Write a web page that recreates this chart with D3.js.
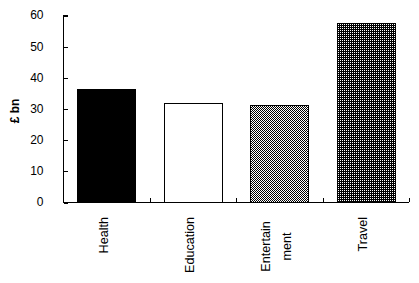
<!DOCTYPE html>
<html><head>
<meta charset="utf-8">
<title>Spending</title>
<script src="https://cdnjs.cloudflare.com/ajax/libs/d3/7.8.5/d3.min.js"></script>
<style>
body { margin: 0; background: #fff; }
svg text { font-family: 'Liberation Sans', Arial, sans-serif; font-size: 12px; fill: #000; }
svg text.cat { font-size: 12.6px; }
</style>
</head>
<body>
<div id="chart"></div>
<script>
var categories = ["Health", "Education", "Entertainment", "Travel"];
var catLines = [["Health"], ["Education"], ["Entertain", "ment"], ["Travel"]];
var values = [36.3, 31.7, 31.2, 57.4];
var fills = ["#000", "#fff", "url(#checker)", "url(#dots)"];
var yTicks = [0, 10, 20, 30, 40, 50, 60];

var w = 419, h = 283;
var svg = d3.select("#chart").append("svg")
    .attr("width", w).attr("height", h)
    .attr("shape-rendering", "crispEdges");

var defs = svg.append("defs");
var p1 = defs.append("pattern").attr("id", "checker")
    .attr("width", 2).attr("height", 2).attr("patternUnits", "userSpaceOnUse");
p1.append("rect").attr("width", 2).attr("height", 2).attr("fill", "#fff");
p1.append("rect").attr("width", 1).attr("height", 1).attr("fill", "#000");
p1.append("rect").attr("x", 1).attr("y", 1).attr("width", 1).attr("height", 1).attr("fill", "#000");
var p2 = defs.append("pattern").attr("id", "dots")
    .attr("width", 2).attr("height", 2).attr("patternUnits", "userSpaceOnUse");
p2.append("rect").attr("width", 2).attr("height", 2).attr("fill", "#000");
p2.append("rect").attr("width", 1).attr("height", 1).attr("fill", "#fff");

var x = d3.scaleBand().domain(categories).range([63, 409]).paddingInner(0.33).paddingOuter(0.165);
var y = d3.scaleLinear().domain([0, 60]).range([202, 15]);

// bars
svg.append("g").selectAll("rect")
  .data(categories)
  .join("rect")
    .attr("x", d => Math.round(x(d)) + 0.5)
    .attr("y", (d, i) => Math.round(y(values[i])) + 0.5)
    .attr("width", Math.round(x.bandwidth()))
    .attr("height", (d, i) => Math.round(y(0)) - Math.round(y(values[i])))
    .attr("fill", (d, i) => fills[i])
    .attr("stroke", "#000");

// y axis
var yAxis = svg.append("g").attr("transform", "translate(63.5,0)")
    .call(d3.axisLeft(y).tickValues(yTicks).tickSize(-4).tickPadding(20));
yAxis.select(".domain").attr("d", "M4," + (y(60) + 0.5) + "H0V" + (y(0) + 0.5));
yAxis.selectAll(".tick line").attr("transform", "translate(0,0.5)");
yAxis.selectAll("text").attr("font-size", 12.4).attr("font-family", "'Liberation Sans', Arial, sans-serif");

// x axis
var step = x.step();
var bounds = d3.range(1, categories.length + 1).map(i => 63 + i * step);
var xg = svg.append("g");
xg.append("line").attr("x1", 63).attr("x2", 409).attr("y1", 202.5).attr("y2", 202.5).attr("stroke", "#000");
xg.selectAll("line.t").data(bounds).join("line").attr("class", "t")
    .attr("x1", d => Math.round(d) + 0.5).attr("x2", d => Math.round(d) + 0.5)
    .attr("y1", 202).attr("y2", 198).attr("stroke", "#000");

// category labels (rotated)
catLines.forEach(function(lines, i) {
  var cx = x(categories[i]) + x.bandwidth() / 2;
  if (lines.length === 1) {
    svg.append("text").attr("class", "cat")
      .attr("transform", "translate(" + (cx + 1.5) + ",217) rotate(-90)")
      .attr("text-anchor", "end")
      .text(lines[0]);
  } else {
    lines.forEach(function(t, j) {
      svg.append("text").attr("class", "cat")
        .attr("transform", "translate(" + (cx - 9 + j * 21) + ",246.5) rotate(-90)")
        .attr("text-anchor", "middle")
        .text(t);
    });
  }
});

// y title
svg.append("text")
  .attr("transform", "translate(19,111) rotate(-90)")
  .attr("text-anchor", "middle")
  .attr("font-weight", "bold")
  .text("£ bn");
</script>
</body>
</html>
